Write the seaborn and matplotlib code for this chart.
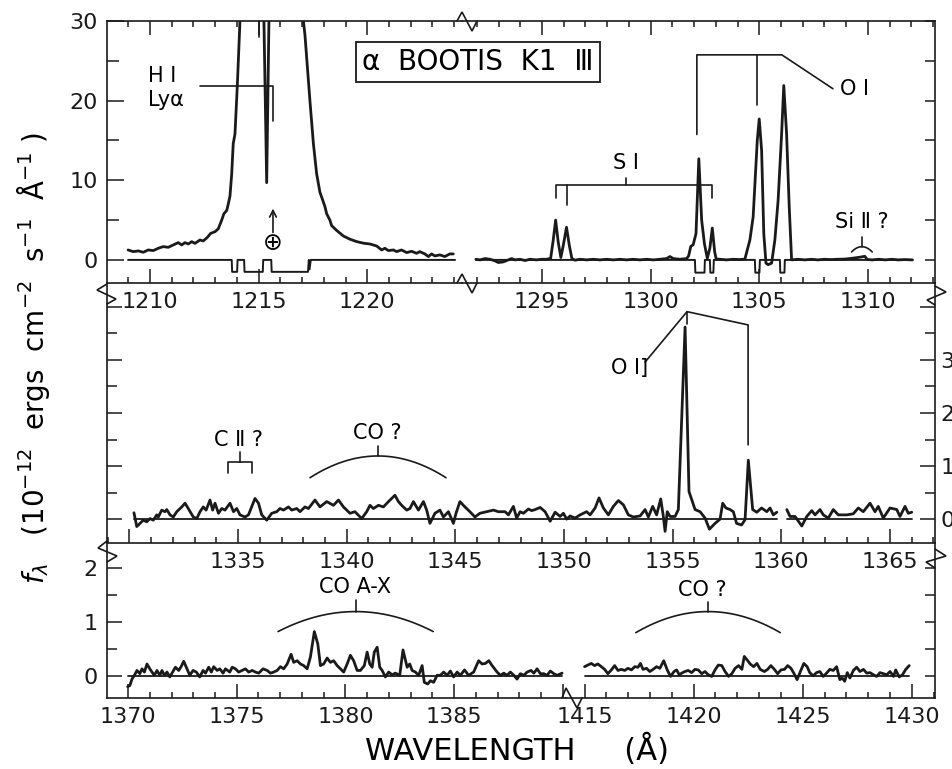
import numpy as np
import matplotlib.pyplot as plt
from matplotlib.lines import Line2D
from matplotlib.ticker import MultipleLocator
import seaborn as sns

# ---------------- data ----------------
# wavelength in Angstrom, flux in 1e-12 erg cm-2 s-1 A-1

# panel 1, left part: H I Ly-alpha (values above 30 are off scale)
LYA_WL = [1208.99, 1209.23, 1209.46, 1209.69, 1209.92, 1210.15, 1210.38, 1210.61, 1210.84,
          1211.07, 1211.30, 1211.46, 1211.61, 1211.76, 1211.92, 1212.07, 1212.30, 1212.45,
          1212.64, 1212.79, 1212.99, 1213.14, 1213.30, 1213.40, 1213.53, 1213.60, 1213.68,
          1213.76, 1213.83, 1213.91, 1214.02, 1214.14, 1214.40, 1214.80, 1215.15, 1215.37,
          1215.55, 1216.00, 1216.50, 1216.90, 1217.06, 1217.13, 1217.36, 1217.52, 1217.67,
          1217.82, 1217.95, 1218.05, 1218.13, 1218.28, 1218.36, 1218.59, 1218.90, 1219.20,
          1219.51, 1219.82, 1220.12, 1220.43, 1220.66, 1220.81, 1220.97, 1221.20, 1221.35,
          1221.58, 1221.81, 1222.04, 1222.27, 1222.42, 1222.65, 1222.81, 1222.96, 1223.11,
          1223.34, 1223.57, 1223.80, 1223.96]
LYA_FLUX = [1.25, 1.04, 1.13, 0.96, 1.25, 1.17, 1.46, 1.67, 1.58,
            1.88, 2.17, 1.88, 2.17, 2.00, 2.29, 2.08, 2.50, 2.38,
            2.83, 3.33, 3.54, 3.90, 5.0, 5.8, 6.2, 7.0, 8.0,
            10.8, 14.6, 15.8, 22.0, 30.0, 48.0, 60.0, 45.0, 9.7,
            45.0, 62.0, 55.0, 40.0, 30.0, 28.3, 20.0, 14.6, 10.8,
            8.5, 7.5, 6.7, 5.8, 5.0, 4.3, 3.7, 3.0, 2.6,
            2.3, 2.1, 2.0, 1.75, 1.25, 1.46, 1.17, 1.25, 1.04,
            1.25, 0.92, 1.08, 0.83, 1.04, 0.75, 0.42, 0.75, 0.50,
            0.63, 0.42, 0.75, 0.75]
LYA_FLAG_WL = [1208.99, 1213.76, 1213.78, 1214.01, 1214.03, 1214.33, 1214.35, 1215.19,
               1215.21, 1215.58, 1215.60, 1217.27, 1217.31, 1217.34, 1217.40, 1224.04]
LYA_FLAG = [0, 0, -1.5, -1.5, 0, 0, -1.5, -1.5, 0, 0, -1.5, -1.5, 0, -1.2, 0, 0]

# panel 1, right part: S I and O I
OI_WL = [1291.96, 1292.15, 1292.38, 1292.61, 1292.84, 1292.99, 1293.22, 1293.45, 1293.60,
         1293.76, 1293.99, 1294.22, 1294.45, 1294.75, 1294.98, 1295.21, 1295.40, 1295.52,
         1295.63, 1295.75, 1295.87, 1295.98, 1296.13, 1296.26, 1296.38, 1296.52, 1296.75,
         1297.06, 1297.36, 1297.67, 1297.98, 1298.28, 1298.59, 1298.90, 1299.20, 1299.51,
         1299.82, 1300.12, 1300.43, 1300.74, 1300.89, 1301.04, 1301.35, 1301.66, 1301.75,
         1301.85, 1301.96, 1302.09, 1302.22, 1302.35, 1302.48, 1302.61, 1302.73, 1302.84,
         1302.95, 1303.02, 1303.20, 1303.50, 1303.80, 1304.10, 1304.34, 1304.57, 1304.72,
         1304.91, 1305.00, 1305.11, 1305.21, 1305.31, 1305.41, 1305.57, 1305.72, 1305.87,
         1306.03, 1306.13, 1306.26, 1306.38, 1306.49, 1306.80, 1307.10, 1307.40, 1307.70,
         1308.00, 1308.30, 1308.60, 1308.90, 1309.10, 1309.40, 1309.65, 1309.86, 1309.97,
         1310.20, 1310.50, 1310.80, 1311.10, 1311.40, 1311.70, 1312.05]
OI_FLUX = [0.08, 0.0, 0.17, 0.08, -0.12, -0.33, -0.25, 0.0, 0.17,
           0.0, 0.08, -0.08, 0.08, 0.0, 0.08, 0.08, 0.2, 2.5,
           5.0, 2.2, 0.3, 1.8, 4.1, 1.8, 0.15, -0.04, 0.08,
           0.0, 0.08, 0.0, 0.08, 0.0, 0.08, 0.0, 0.08, 0.0,
           0.08, 0.0, 0.08, 0.17, 0.42, 0.17, 0.08, 0.17, 0.5,
           1.7, 1.9, 3.3, 12.7, 5.0, 2.0, 0.2, 1.5, 4.0,
           1.0, 0.1, 0.08, 0.0, 0.08, 0.04, 0.1, 2.5, 5.4,
           15.0, 17.7, 13.75, 3.3, -0.4, -0.6, -0.4, 2.5, 7.5,
           15.8, 21.9, 15.8, 6.7, 0.0, 0.08, 0.0, 0.08, 0.0,
           0.08, 0.04, 0.08, 0.1, 0.15, 0.25, 0.35, 0.45, 0.05,
           0.0, 0.08, 0.0, 0.08, 0.0, 0.04, 0.0]
OI_FLAG_WL = [1291.96, 1302.04, 1302.06, 1302.48, 1302.50, 1302.73, 1302.75, 1302.89, 1302.91,
              1304.80, 1304.82, 1305.01, 1305.03, 1305.95, 1305.97, 1306.16, 1306.18, 1312.05]
OI_FLAG = [0, 0, -1.6, -1.6, 0, 0, -1.6, -1.6, 0, 0, -1.6, -1.6, 0, 0, -1.6, -1.6, 0, 0]

# panel 2: 1330-1360 and 1360-1366
MID_WL_A = [1330.21, 1330.34, 1330.64, 1330.80, 1330.95, 1331.10, 1331.26, 1331.33, 1331.49,
            1331.64, 1331.72, 1331.87, 1332.02, 1332.18, 1332.41, 1332.56, 1332.71, 1332.94,
            1333.10, 1333.25, 1333.40, 1333.53, 1333.71, 1333.83, 1333.94, 1334.10, 1334.25,
            1334.40, 1334.63, 1334.79, 1334.94, 1335.09, 1335.32, 1335.48, 1335.78, 1335.94,
            1336.09, 1336.32, 1336.55, 1336.78, 1336.93, 1337.09, 1337.32, 1337.47, 1337.70,
            1337.85, 1338.08, 1338.24, 1338.54, 1338.77, 1339.08, 1339.39, 1339.62, 1339.85,
            1340.15, 1340.38, 1340.69, 1340.92, 1341.07, 1341.23, 1341.46, 1341.69, 1341.92,
            1342.22, 1342.38, 1342.53, 1342.76, 1342.91, 1343.07, 1343.30, 1343.53, 1343.68,
            1343.83, 1344.06, 1344.29, 1344.45, 1344.68, 1344.91, 1345.03, 1345.21, 1345.44,
            1345.67, 1345.90, 1346.13, 1346.44, 1346.75, 1346.98, 1347.29, 1347.44, 1347.67,
            1347.82, 1347.98, 1348.13, 1348.36, 1348.51, 1348.67, 1348.90, 1349.13, 1349.36,
            1349.59, 1349.82, 1349.97, 1350.12, 1350.28, 1350.51, 1350.74, 1351.04, 1351.20,
            1351.43, 1351.61, 1351.81, 1352.04, 1352.27, 1352.50, 1352.73, 1352.96, 1353.19,
            1353.50, 1353.73, 1353.88, 1354.08, 1354.26, 1354.45, 1354.57, 1354.65, 1354.75,
            1354.88, 1355.11, 1355.26, 1355.57, 1355.75, 1356.03, 1356.26, 1356.49, 1356.69,
            1356.95, 1357.18, 1357.30, 1357.45, 1357.64, 1357.79, 1357.94, 1358.17, 1358.33,
            1358.48, 1358.68, 1358.87, 1359.09, 1359.33, 1359.48, 1359.63, 1359.79]
MID_FLUX_A = [0.12, -0.14, -0.02, -0.05, 0.01, -0.02, 0.08, 0.04, 0.17,
              0.14, 0.18, 0.08, 0.04, 0.14, 0.23, 0.30, 0.20, 0.04,
              0.01, 0.14, 0.23, 0.17, 0.36, 0.17, 0.30, 0.11, 0.20,
              0.17, 0.30, 0.14, 0.20, 0.08, 0.04, 0.08, 0.39, 0.30,
              0.08, -0.02, 0.11, 0.14, 0.20, 0.17, 0.23, 0.17, 0.20,
              0.14, 0.23, 0.20, 0.36, 0.23, 0.33, 0.26, 0.36, 0.23,
              0.11, 0.14, 0.01, 0.14, 0.26, 0.20, 0.26, 0.23, 0.33,
              0.45, 0.33, 0.26, 0.17, 0.20, 0.33, 0.17, 0.33, 0.17,
              -0.08, 0.11, 0.17, 0.04, 0.14, -0.08, 0.11, 0.33, 0.23,
              0.14, 0.04, 0.11, 0.14, 0.17, 0.14, 0.14, 0.08, 0.24,
              0.02, 0.14, 0.11, 0.19, 0.16, 0.18, 0.22, 0.14, -0.04,
              0.13, 0.05, 0.11, 0.00, 0.06, 0.02, 0.08, 0.14, 0.08,
              0.21, 0.40, 0.21, 0.08, 0.24, 0.35, 0.27, 0.08, 0.04,
              0.06, 0.18, 0.04, 0.24, 0.08, 0.38, 0.05, -0.23, 0.14,
              0.05, 0.05, 0.18, 3.62, 0.52, 0.18, 0.14, 0.02, -0.19,
              -0.08, 0.00, 0.30, 0.21, 0.18, 0.14, -0.08, -0.11, -0.01,
              1.11, 0.18, 0.13, 0.21, 0.14, 0.21, 0.08, 0.13]
MID_WL_B = [1360.25, 1360.40, 1360.63, 1360.94, 1361.17, 1361.40, 1361.55, 1361.78, 1361.93,
            1362.16, 1362.39, 1362.62, 1363.01, 1363.31, 1363.54, 1363.77, 1364.08, 1364.31,
            1364.46, 1364.69, 1365.00, 1365.31, 1365.46, 1365.69, 1365.84, 1366.00]
MID_FLUX_B = [0.18, 0.05, 0.05, -0.13, 0.05, 0.16, 0.08, 0.18, 0.08,
              0.02, 0.18, 0.08, 0.08, 0.10, 0.21, 0.14, 0.30, 0.14,
              0.24, 0.02, 0.21, 0.18, 0.05, 0.24, 0.11, 0.13]

# panel 3: 1370-1390 and 1415-1430
BOT_WL_A = [1369.98, 1370.08, 1370.18, 1370.29, 1370.41, 1370.54, 1370.64, 1370.75, 1370.87,
            1371.00, 1371.10, 1371.21, 1371.33, 1371.46, 1371.56, 1371.67, 1371.79, 1371.92,
            1372.02, 1372.18, 1372.33, 1372.44, 1372.56, 1372.68, 1372.84, 1372.99, 1373.14,
            1373.30, 1373.45, 1373.56, 1373.71, 1373.83, 1373.94, 1374.10, 1374.22, 1374.37,
            1374.48, 1374.68, 1374.79, 1374.94, 1375.09, 1375.25, 1375.40, 1375.55, 1375.71,
            1375.86, 1376.01, 1376.21, 1376.40, 1376.55, 1376.70, 1376.86, 1377.01, 1377.16,
            1377.32, 1377.50, 1377.62, 1377.78, 1377.93, 1378.08, 1378.24, 1378.39, 1378.57,
            1378.73, 1378.85, 1379.00, 1379.16, 1379.31, 1379.46, 1379.62, 1379.77, 1379.92,
            1380.08, 1380.23, 1380.38, 1380.54, 1380.69, 1380.87, 1381.00, 1381.12, 1381.23,
            1381.33, 1381.46, 1381.58, 1381.69, 1381.84, 1381.99, 1382.15, 1382.30, 1382.50,
            1382.65, 1382.84, 1382.96, 1383.07, 1383.22, 1383.37, 1383.53, 1383.63, 1383.79,
            1383.91, 1384.06, 1384.22, 1384.37, 1384.52, 1384.68, 1384.83, 1384.98, 1385.14,
            1385.29, 1385.48, 1385.67, 1385.90, 1386.13, 1386.29, 1386.44, 1386.60, 1386.75,
            1386.98, 1387.13, 1387.29, 1387.44, 1387.59, 1387.75, 1387.90, 1388.05, 1388.21,
            1388.36, 1388.54, 1388.67, 1388.82, 1388.97, 1389.13, 1389.28, 1389.43, 1389.59,
            1389.74, 1389.97]
BOT_FLUX_A = [-0.20, -0.18, -0.06, 0.01, 0.10, 0.04, 0.13, 0.07, 0.22,
              0.13, 0.07, 0.01, 0.10, 0.01, 0.10, 0.01, 0.07, -0.02,
              0.05, 0.16, 0.10, 0.17, 0.27, 0.16, 0.01, 0.10, 0.07,
              -0.02, 0.10, 0.05, 0.16, 0.07, 0.17, 0.10, 0.13, 0.05,
              0.13, 0.07, 0.16, 0.13, 0.07, 0.10, 0.13, 0.07, 0.10,
              0.07, 0.05, 0.13, 0.10, 0.05, 0.07, 0.10, 0.17, 0.13,
              0.22, 0.40, 0.25, 0.28, 0.22, 0.19, 0.13, 0.35, 0.82,
              0.59, 0.19, 0.22, 0.33, 0.25, 0.28, 0.19, 0.13, 0.07,
              0.22, 0.38, 0.28, 0.10, 0.10, 0.19, 0.44, 0.22, 0.16,
              0.44, 0.53, 0.16, 0.10, -0.02, 0.07, 0.02, 0.05, 0.01,
              0.48, 0.16, 0.22, 0.10, 0.07, 0.01, 0.19, -0.12, -0.15,
              -0.09, -0.12, 0.01, 0.01, 0.07, 0.01, 0.09, -0.02, 0.07,
              0.01, 0.11, 0.01, 0.07, 0.28, 0.22, 0.23, 0.28, 0.19,
              0.07, 0.01, 0.05, 0.01, 0.07, 0.01, -0.06, 0.04, 0.01,
              0.07, 0.10, 0.05, 0.13, 0.04, 0.04, 0.01, 0.09, 0.04,
              0.01, 0.05]
BOT_WL_B = [1415.00, 1415.15, 1415.31, 1415.46, 1415.61, 1415.77, 1415.92, 1416.07, 1416.23,
            1416.38, 1416.53, 1416.69, 1416.84, 1416.99, 1417.15, 1417.30, 1417.45, 1417.56,
            1417.68, 1417.84, 1417.99, 1418.14, 1418.30, 1418.45, 1418.63, 1418.79, 1418.94,
            1419.10, 1419.22, 1419.34, 1419.45, 1419.60, 1419.75, 1419.91, 1420.06, 1420.21,
            1420.37, 1420.52, 1420.67, 1420.83, 1420.98, 1421.13, 1421.29, 1421.44, 1421.60,
            1421.75, 1421.90, 1422.06, 1422.21, 1422.32, 1422.44, 1422.59, 1422.75, 1422.90,
            1423.05, 1423.24, 1423.39, 1423.54, 1423.70, 1423.85, 1424.00, 1424.16, 1424.31,
            1424.46, 1424.59, 1424.74, 1424.89, 1425.05, 1425.20, 1425.32, 1425.48, 1425.63,
            1425.78, 1425.94, 1426.09, 1426.24, 1426.40, 1426.55, 1426.70, 1426.81, 1426.92,
            1427.04, 1427.16, 1427.32, 1427.47, 1427.62, 1427.78, 1427.93, 1428.08, 1428.24,
            1428.39, 1428.54, 1428.70, 1428.85, 1429.00, 1429.16, 1429.26, 1429.42, 1429.57,
            1429.72, 1429.88]
BOT_FLUX_B = [0.17, 0.20, 0.23, 0.19, 0.22, 0.17, 0.12, 0.04, 0.11,
              0.19, 0.10, 0.12, 0.10, 0.14, 0.11, 0.17, 0.16, 0.23,
              0.12, 0.14, 0.08, 0.12, 0.17, 0.14, 0.28, 0.11, -0.01,
              0.08, 0.11, 0.02, 0.05, 0.08, 0.10, 0.06, 0.12, 0.11,
              0.04, 0.08, 0.02, -0.01, 0.11, 0.20, 0.19, 0.08, -0.01,
              0.04, 0.14, 0.19, 0.12, 0.36, 0.30, 0.22, 0.17, 0.23,
              0.12, 0.08, 0.12, 0.19, 0.12, 0.04, 0.11, 0.12, 0.19,
              0.14, 0.05, -0.07, 0.08, 0.23, 0.17, 0.06, 0.00, 0.06,
              0.08, -0.01, 0.05, 0.12, 0.10, 0.17, -0.07, -0.04, -0.10,
              0.06, -0.04, 0.10, 0.16, 0.08, 0.12, 0.05, 0.06, 0.02,
              -0.01, 0.06, 0.04, 0.02, 0.08, -0.01, 0.11, -0.02, 0.02,
              0.12, 0.19]

MID_XTICKS = [1330, 1335, 1340, 1345, 1350, 1355, 1360, 1365]
MID_XLABELS = ['', '1335', '1340', '1345', '1350', '1355', '1360', '1365']
BOTA_XTICKS = [1370, 1375, 1380, 1385, 1390]
BOTA_XLABELS = ['1370', '1375', '1380', '1385', '']

# ---------------- figure ----------------
sns.set_theme(style="ticks")
plt.rcParams['font.family'] = ['DejaVu Sans']
plt.rcParams['mathtext.fontset'] = 'dejavusans'
for k in ['text.color', 'axes.labelcolor', 'xtick.color', 'ytick.color', 'axes.edgecolor']:
    plt.rcParams[k] = 'black'

W, H = 953, 769
fig = plt.figure(figsize=(W / 100, H / 100), dpi=100)


def rect(x0, y0, x1, y1):
    # pixel box (origin top left) -> figure fraction
    return [x0 / W, 1 - y1 / H, (x1 - x0) / W, (y1 - y0) / H]


def px(x, y):
    return x / W, 1 - y / H


def fig_line(pts, lw=1.2):
    xs, ys = zip(*[px(*p) for p in pts])
    fig.add_artist(Line2D(xs, ys, color='k', lw=lw, solid_joinstyle='miter'))


ax1a = fig.add_axes(rect(107, 21, 462, 283))
ax1b = fig.add_axes(rect(462, 21, 935, 283))
ax2 = fig.add_axes(rect(107, 283, 935, 543))
ax3a = fig.add_axes(rect(107, 543, 566, 698))
ax3b = fig.add_axes(rect(566, 543, 935, 698))


def trace(ax, wl, flux, lw=2.0):
    sns.lineplot(x=wl, y=flux, ax=ax, color='k', lw=lw, estimator=None,
                 sort=False, legend=False)


def zero(ax, wl):
    ax.plot([min(wl), max(wl)], [0, 0], color='k', lw=1.3)


trace(ax1a, LYA_FLAG_WL, LYA_FLAG, lw=1.4)
trace(ax1a, LYA_WL, LYA_FLUX)
trace(ax1b, OI_FLAG_WL, OI_FLAG, lw=1.4)
trace(ax1b, OI_WL, OI_FLUX)
zero(ax2, MID_WL_A)
zero(ax2, MID_WL_B)
trace(ax2, MID_WL_A, MID_FLUX_A)
trace(ax2, MID_WL_B, MID_FLUX_B)
zero(ax3a, BOT_WL_A)
zero(ax3b, BOT_WL_B)
trace(ax3a, BOT_WL_A, BOT_FLUX_A)
trace(ax3b, BOT_WL_B, BOT_FLUX_B)

for ax in [ax1a, ax1b, ax2, ax3a, ax3b]:
    ax.patch.set_visible(False)
    ax.set_xlabel('')
    ax.set_ylabel('')
    for s in ax.spines.values():
        s.set_linewidth(1.2)
        s.set_color('k')
    ax.xaxis.set_major_locator(MultipleLocator(5))
    ax.xaxis.set_minor_locator(MultipleLocator(1))
    ax.tick_params(axis='both', which='both', direction='in', colors='k',
                   labelsize=16, width=1.1, pad=6.5)
    ax.tick_params(axis='x', which='major', length=10)
    ax.tick_params(axis='x', which='minor', length=4.3)

ax1a.set_xlim(1208.02, 1224.36)
ax1b.set_xlim(1291.32, 1313.09)
ax2.set_xlim(1328.97, 1367.07)
ax3a.set_xlim(1369.03, 1390.15)
ax3b.set_xlim(1414.15, 1431.06)
for ax in [ax1a, ax1b]:
    ax.set_ylim(-2.9, 30)
    ax.tick_params(axis='x', which='both', top=True, bottom=True)
ax2.set_ylim(-0.45, 4.45)
for ax in [ax3a, ax3b]:
    ax.set_ylim(-0.41, 2.46)

ax2.set_xticks(MID_XTICKS, MID_XLABELS)
ax3a.set_xticks(BOTA_XTICKS, BOTA_XLABELS)

# spines
ax1a.spines['right'].set_visible(False)
ax1b.spines['left'].set_visible(False)
ax2.spines['top'].set_visible(False)
ax3a.spines['right'].set_visible(False)
ax3a.spines['top'].set_visible(False)
ax3b.spines['left'].set_visible(False)
ax3b.spines['top'].set_visible(False)

# y ticks
ax1a.yaxis.set_major_locator(MultipleLocator(10))
ax1a.yaxis.set_minor_locator(MultipleLocator(5))
ax1a.tick_params(axis='y', which='major', length=12)
ax1a.tick_params(axis='y', which='minor', length=8.5)
ax1b.yaxis.set_major_locator(MultipleLocator(5))
ax1b.yaxis.tick_right()
ax1b.tick_params(axis='y', which='major', length=7, labelright=False)

ax2.set_yticks([0, 1, 2, 3, 4], ['0', '1', '2', '3', ''])
ax2.yaxis.set_minor_locator(MultipleLocator(0.5))
ax2.tick_params(axis='y', which='both', left=True, right=True,
                labelleft=False, labelright=True, pad=4)
ax2.tick_params(axis='y', which='major', length=11)
ax2.tick_params(axis='y', which='minor', length=7)

ax3a.set_yticks([0, 1, 2])
ax3a.yaxis.set_minor_locator(MultipleLocator(0.5))
ax3a.tick_params(axis='y', which='major', length=11)
ax3a.tick_params(axis='y', which='minor', length=7)
ax3b.set_yticks([0, 1, 2])
ax3b.yaxis.set_minor_locator(MultipleLocator(0.5))
ax3b.yaxis.tick_right()
ax3b.tick_params(axis='y', which='both', length=7, labelright=False)

# ---------------- annotations ----------------
LW = 1.2
FS = 15
kw = dict(color='k', lw=LW, clip_on=False)


def arc(ax, x0, x1, y_end, y_top, y_tick):
    x = np.linspace(x0, x1, 60)
    xm, hw = (x0 + x1) / 2, (x1 - x0) / 2
    ax.plot(x, y_top - (y_top - y_end) * ((x - xm) / hw) ** 2, **kw)
    ax.plot([xm, xm], [y_top, y_tick], **kw)


# H I Ly alpha
ax1a.text(1209.91, 21.6, 'H Ⅰ\nLyα', fontsize=FS, ha='left', va='center', linespacing=1.25)
ax1a.plot([1212.30, 1215.66, 1215.66], [21.9, 21.9, 17.5], **kw)
ax1a.plot([1215.03, 1215.03], [30, 28.0], **kw)
ax1a.text(1215.66, 2.1, '⊕', fontsize=17, ha='center', va='center')
ax1a.annotate('', xy=(1215.66, 6.8), xytext=(1215.66, 3.1),
              arrowprops=dict(arrowstyle='->', lw=LW, color='k'))

# S I
ax1b.text(1298.87, 12.2, 'S Ⅰ', fontsize=FS, ha='center', va='center')
ax1b.plot([1295.64, 1295.64, 1302.82, 1302.82], [7.75, 9.4, 9.4, 7.75], **kw)
ax1b.plot([1296.15, 1296.15], [9.4, 6.9], **kw)
ax1b.plot([1298.87, 1298.87], [9.4, 10.25], **kw)

# O I
ax1b.plot([1302.13, 1302.13, 1306.04, 1308.39], [15.75, 25.75, 25.75, 21.5], **kw)
ax1b.plot([1304.89, 1304.89], [25.75, 19.4], **kw)
ax1b.text(1309.4, 21.4, 'O Ⅰ', fontsize=FS, ha='center', va='center')

# Si II ?
ax1b.text(1309.7, 4.75, 'Si Ⅱ ?', fontsize=FS, ha='center', va='center')
arc(ax1b, 1309.25, 1310.20, 1.0, 1.66, 2.9)

# C II ?
ax2.text(1335.0, 1.49, 'C Ⅱ ?', fontsize=FS, ha='center', va='center')
ax2.plot([1334.54, 1334.54, 1335.64, 1335.64], [0.87, 1.08, 1.08, 0.87], **kw)
ax2.plot([1335.09, 1335.09], [1.08, 1.27], **kw)

# CO ? (middle)
ax2.text(1341.4, 1.62, 'CO ?', fontsize=FS, ha='center', va='center')
arc(ax2, 1338.31, 1344.57, 0.78, 1.19, 1.38)

# O I]
ax2.text(1353.0, 2.85, 'O Ⅰ]', fontsize=FS, ha='center', va='center')
ax2.plot([1353.73, 1355.66, 1358.47, 1358.47], [2.96, 3.91, 3.66, 1.40], **kw)
ax2.plot([1355.66, 1355.66], [3.91, 3.68], **kw)

# CO A-X
ax3a.text(1380.45, 1.64, 'CO A-X', fontsize=FS, ha='center', va='center')
arc(ax3a, 1376.90, 1384.04, 0.82, 1.19, 1.41)

# CO ? (bottom)
ax3b.text(1420.4, 1.59, 'CO ?', fontsize=FS, ha='center', va='center')
arc(ax3b, 1417.35, 1423.97, 0.80, 1.19, 1.37)

# title box
fig.text(*px(478, 62), 'α  BOOTIS  K1  Ⅲ', fontsize=20, ha='center', va='center',
         bbox=dict(boxstyle='square,pad=0.22', fc='white', ec='k', lw=1.3))

# axis titles
fig.text(*px(365, 750), 'WAVELENGTH     (Å)', fontsize=22, ha='left', va='center')
fig.text(*px(34, 358), r'$f_{\lambda}$   (10$^{-12}$  ergs  cm$^{-2}$  s$^{-1}$  Å$^{-1}$ )',
         fontsize=20, rotation=90, ha='center', va='center')

# axis break marks
fig_line([(457, 21), (462, 12), (472, 31), (477, 21)])
fig_line([(457, 283), (462, 274), (472, 293), (477, 283)])
fig_line([(107, 284), (97, 290), (116, 299), (107, 304)])
fig_line([(935, 286), (946, 292), (927, 300), (935, 305)])
fig_line([(107, 541), (98, 548), (117, 556), (107, 562)])
fig_line([(935, 549), (946, 556), (926, 562), (935, 568)])
fig_line([(562, 698), (566, 688), (577, 708), (582, 698)])

fig.savefig('out.png', dpi=100)
